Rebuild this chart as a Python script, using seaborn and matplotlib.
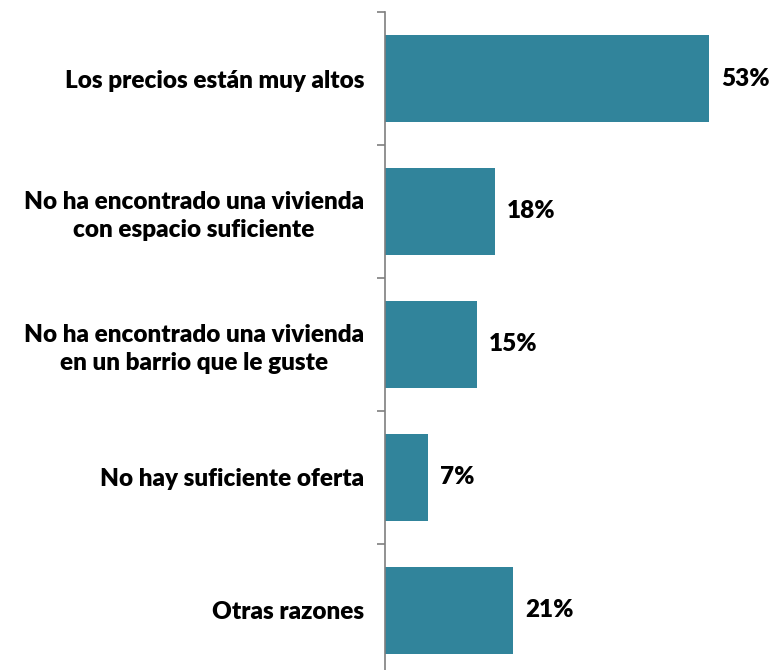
import numpy as np
import pandas as pd
import matplotlib
matplotlib.use('Agg')
import matplotlib.pyplot as plt
import seaborn as sns

# Data
reasons = [
    'Los precios están muy altos',
    'No ha encontrado una vivienda\ncon espacio suficiente',
    'No ha encontrado una vivienda\nen un barrio que le guste',
    'No hay suficiente oferta',
    'Otras razones',
]
shares = [53, 18, 15, 7, 21]

df = pd.DataFrame({'reason': reasons, 'share': shares})

sns.set_style('white')
plt.rcParams['font.family'] = ['Lato', 'DejaVu Sans']

fig = plt.figure(figsize=(7.7, 6.7), dpi=100)
ax = fig.add_axes([0.5, -0.01, 0.5, 0.992])

sns.barplot(data=df, x='share', y='reason', color='#31849B', width=0.655,
            saturation=1, ax=ax, edgecolor='none')

ax.set_xlim(0, 63)
ax.set_ylim(4.5, -0.5)
ax.set_xlabel('')
ax.set_ylabel('')
ax.set_xticks([])

# labels at category centres, tick marks at category boundaries
ax.set_yticks(range(len(reasons)))
ax.set_yticklabels(reasons, fontsize=17.5, fontweight='heavy', ha='right',
                   multialignment='center', linespacing=1.33, color='black')
ax.tick_params(axis='y', which='major', length=0, pad=15)
ax.set_yticks(np.arange(-0.5, len(reasons), 1), minor=True)
ax.tick_params(axis='y', which='minor', length=6, width=1.2, color='#7f7f7f',
               left=True)

for side in ['top', 'right', 'bottom']:
    ax.spines[side].set_visible(False)
ax.spines['left'].set_color('#7f7f7f')
ax.spines['left'].set_linewidth(1.2)

for i, v in enumerate(shares):
    ax.text(v + 2, i, f'{v}%', va='center', ha='left', fontsize=17.5,
            fontweight='heavy', color='black')

fig.savefig('out.png', dpi=100)
